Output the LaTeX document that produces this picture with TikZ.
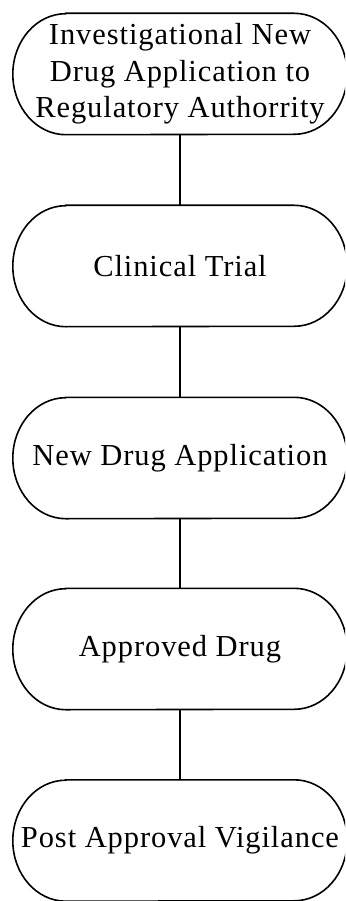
\documentclass[tikz,border=0pt]{standalone}
\usepackage{fontspec}
\setmainfont{Liberation Serif}[LetterSpace=3]
\begin{document}
\begin{tikzpicture}[x=1pt,y=-1pt,
  stagebox/.style={inner sep=0pt, align=center, minimum width=334pt, minimum height=121pt,
    font=\fontsize{30.5}{36.5}\selectfont},
  outline/.style={line width=1.6pt, black},
  conn/.style={line width=1.6pt, black}]
\useasboundingbox (0,0) rectangle (345,901);
\begin{scope}
\clip (0,0) rectangle (345,901);
\node[stagebox] (n1) at (180,74) {Investigational New\\Drug Application to\\Regulatory Authorrity};
\node[stagebox] (n2) at (180,266) {Clinical Trial};
\node[stagebox] (n3) at (180,458) {New Drug Application};
\node[stagebox] (n4) at (180,649) {Approved Drug};
\node[stagebox] (n5) at (180,840.5) {Post Approval Vigilance};
\foreach \n in {n1,n2,n3,n4,n5}{
  \draw[outline] ([xshift=53pt]\n.north west) -- ([xshift=-53pt]\n.north east)
    arc[start angle=90, end angle=-90, x radius=53pt, y radius=60.5pt]
    -- ([xshift=53pt]\n.south west)
    arc[start angle=270, end angle=90, x radius=53pt, y radius=60.5pt] -- cycle;
}
\draw[conn] (n1.south) -- (n2.north);
\draw[conn] (n2.south) -- (n3.north);
\draw[conn] (n3.south) -- (n4.north);
\draw[conn] (n4.south) -- (n5.north);
\end{scope}
\end{tikzpicture}
\end{document}
